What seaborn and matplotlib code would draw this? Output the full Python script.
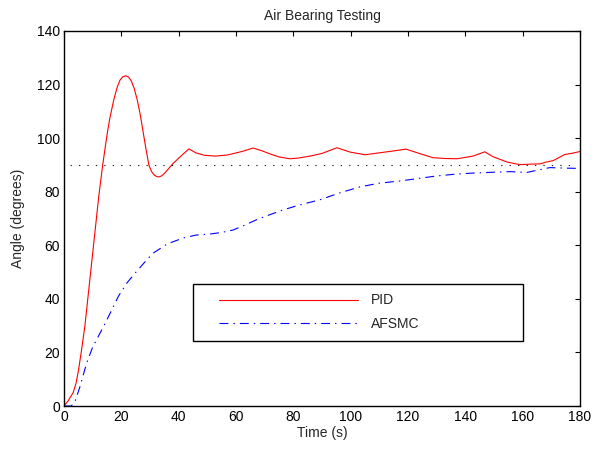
import pandas as pd
import matplotlib
matplotlib.use('Agg')
import matplotlib.pyplot as plt
import seaborn as sns
from matplotlib.patches import Rectangle

# PID response (time in s, angle in degrees)
pid_t = [0, 1.5, 3.2, 4.2, 5, 6, 7.3, 8.5, 9.7, 10.9, 12.1, 13.5, 14.5, 15.2, 16, 17.4, 18.5,
         19.5, 20.5, 21.5, 22.5, 23.5, 24.5, 25.5, 26.5, 27.5, 28.5, 29.6, 30.5, 31.5,
         32.3, 33.1, 34, 35, 36, 38, 41, 43.6, 46, 49, 52.7, 57, 62, 66, 69, 71.9,
         75, 78.8, 82, 85.8, 90, 95.2, 99.8, 105, 111.3, 116.1, 119.3, 124.2, 128.7,
         133, 137.1, 142.7, 146.8, 149.6, 154.5, 159, 163, 166, 168, 170.6, 174.7, 177, 180]
pid_y = [0, 2, 5, 8.5, 13, 20, 30, 42, 54, 66, 78, 90, 97.5, 102.5, 107.5, 114.5, 118.8,
         121.6, 122.9, 123.3, 122.8, 121.3, 118.5, 114.5, 109.3, 103, 96.5, 90, 87.6, 86.2,
         85.7, 85.5, 85.9, 86.8, 88, 90.5, 93.5, 96, 94.5, 93.6, 93.3, 93.7, 95, 96.3, 95.3, 94.1,
         93.0, 92.3, 92.6, 93.3, 94.3, 96.4, 94.8, 93.8, 94.7, 95.4, 95.9, 94.2, 92.7,
         92.4, 92.3, 93.3, 94.9, 93.1, 91.1, 90.1, 90.3, 90.4, 91.0, 91.6, 93.9, 94.3, 95]

# AFSMC response
afsmc_t = [0, 2.5, 3.8, 5.5, 7.9, 10, 13.7, 16.5, 19, 22, 24.8, 28, 31, 36, 41.5, 46, 50.9,
           55, 59, 63, 67.3, 72, 76.4, 82, 89.3, 96, 103.2, 110, 117.2, 124, 130.1, 136,
           141.6, 148, 155.6, 161.5, 165, 169.5, 175, 180]
afsmc_y = [0, 0, 1.5, 7, 16, 22, 29.5, 35.5, 41, 46, 49.6, 53.5, 57, 60.5, 62.7, 63.8, 64.2,
           64.8, 65.7, 67.5, 69.6, 71.5, 73.2, 75, 77, 79.5, 81.8, 83.2, 84, 85, 85.9, 86.5,
           86.9, 87.2, 87.5, 87.2, 88, 89, 88.8, 88.7]

setpoint = 90
x_ticks = list(range(0, 181, 20))
y_ticks = list(range(0, 141, 20))

sns.set_style('white')
plt.rcParams['font.family'] = ['Liberation Sans', 'DejaVu Sans']
plt.rcParams['font.size'] = 10

pid = pd.DataFrame({'t': pid_t, 'angle': pid_y})
afsmc = pd.DataFrame({'t': afsmc_t, 'angle': afsmc_y})

fig = plt.figure(figsize=(5.96, 4.53), dpi=100)
ax = fig.add_axes([64 / 596, 47 / 453, 516 / 596, 375 / 453])

sns.lineplot(data=pid, x='t', y='angle', ax=ax, color='#ff0000', lw=0.8,
             sort=False, estimator=None, label='PID')
sns.lineplot(data=afsmc, x='t', y='angle', ax=ax, color='#0000ff', lw=0.8,
             sort=False, estimator=None, label='AFSMC', linestyle=(0, (8, 4.5, 1.3, 4.5)))
ax.hlines(setpoint, 2, 178, colors='#222222', lw=0.8, linestyles=[(0, (1.2, 6.4))])

ax.set_xlim(0, 180)
ax.set_ylim(0, 140)
ax.set_xticks(x_ticks)
ax.set_yticks(y_ticks)
ax.tick_params(direction='in', length=3.6, width=0.8, top=True, right=True,
               labelsize=10, pad=3, colors='black')
for s in ax.spines.values():
    s.set_color('black')
    s.set_linewidth(1.0)

ax.set_title('Air Bearing Testing', fontsize=10, pad=8)
ax.set_xlabel('Time (s)', fontsize=10, labelpad=1)
ax.set_ylabel('Angle (degrees)', fontsize=10, labelpad=8)

# legend box drawn separately, entries placed inside it
ax.add_patch(Rectangle((0.25, 0.173), 0.639, 0.152, transform=ax.transAxes,
                       facecolor='white', edgecolor='black', lw=1.0, zorder=5))
leg = ax.legend(loc='center left', bbox_to_anchor=(0.3004, 0.2507), frameon=False,
                fontsize=10, handlelength=10, handletextpad=0.95, labelspacing=0.65,
                borderpad=0, borderaxespad=0)
leg.set_zorder(6)

fig.savefig('out.png', dpi=100)
